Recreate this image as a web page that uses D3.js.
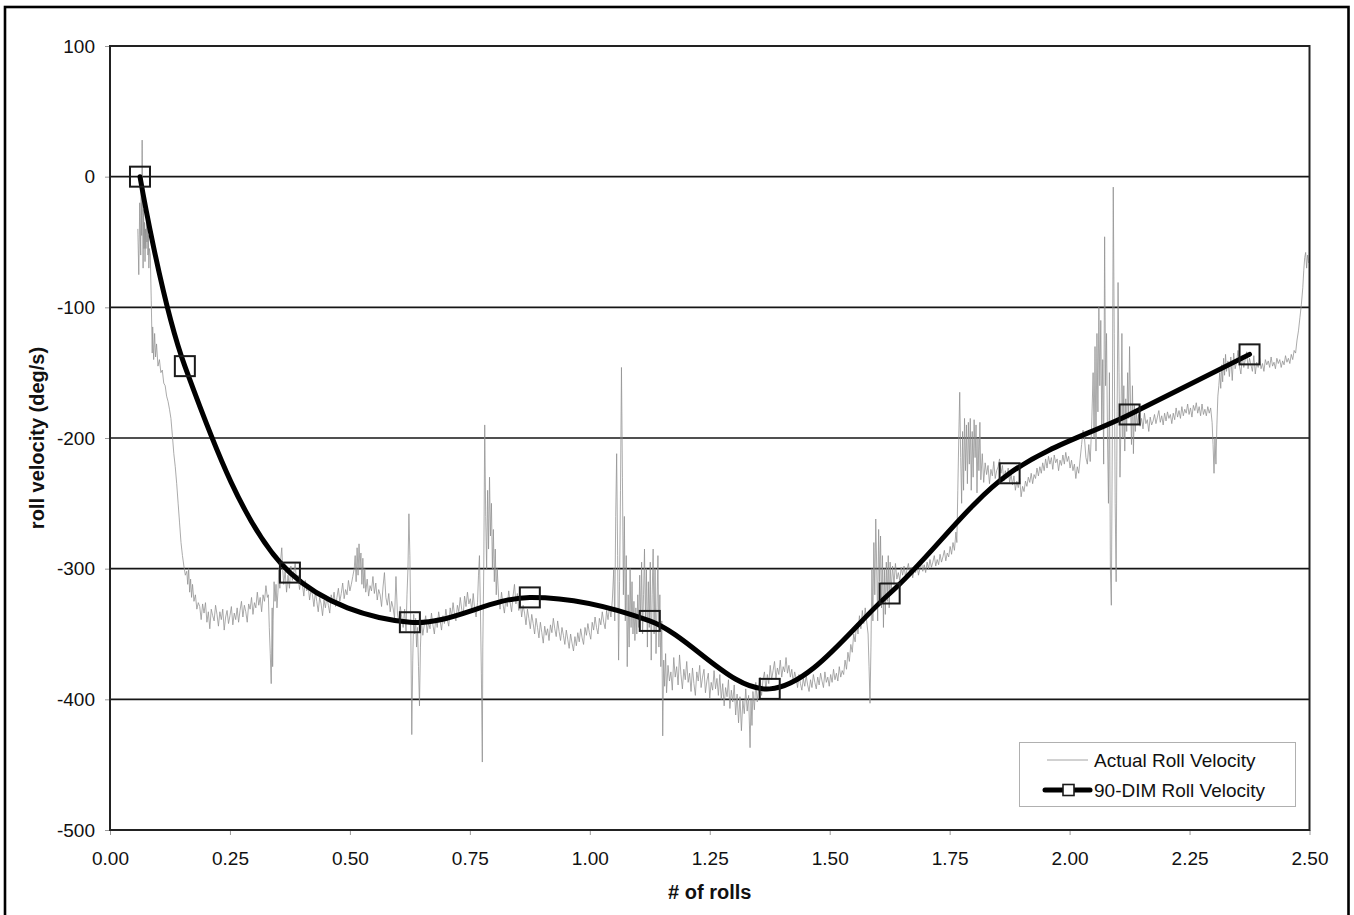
<!DOCTYPE html>
<html>
<head>
<meta charset="utf-8">
<script src="https://cdn.jsdelivr.net/npm/d3@7"></script>
<style>
  body { margin: 0; background: #fff; }
  svg { display: block; }
  text { font-family: "Liberation Sans", Arial, sans-serif; fill: #111; }
</style>
</head>
<body>
<svg id="chart" width="1354" height="915"></svg>
<script>
// Measured roll velocity: [rolls, deg/s]
const actualTrace = [
  [0.058,-40],[0.060,-75],[0.062,-20],[0.064,-60],[0.065,-5],[0.066,-45],[0.067,28],[0.068,-30],[0.069,-70],[0.070,-25],
  [0.071,-55],[0.072,-35],[0.073,-65],[0.074,-40],[0.075,-55],[0.076,-30],[0.077,-50],[0.078,-35],[0.079,-60],[0.080,-45],
  [0.081,-70],[0.082,-55],[0.084,-60],[0.086,-95],[0.088,-135],[0.089,-115],[0.091,-140],[0.093,-120],[0.095,-138],[0.097,-128],
  [0.100,-145],[0.103,-140],[0.106,-150],[0.109,-148],[0.112,-158],[0.115,-160],[0.118,-168],[0.121,-172],[0.124,-178],[0.127,-185],
  [0.130,-198],[0.133,-212],[0.136,-222],[0.139,-235],[0.142,-250],[0.145,-265],[0.148,-280],[0.151,-290],[0.154,-298],[0.157,-305],
  [0.160,-302],[0.162,-312],[0.164,-300],[0.166,-318],[0.168,-308],[0.170,-322],[0.172,-312],[0.175,-325],
  [0.178,-320],[0.181,-331],[0.184,-326],[0.187,-329],[0.190,-339],[0.193,-327],[0.196,-334],[0.199,-326],[0.202,-341],[0.205,-333],
  [0.208,-346],[0.211,-331],[0.214,-336],[0.217,-340],[0.220,-328],[0.223,-335],[0.226,-344],[0.229,-333],[0.232,-339],[0.235,-331],
  [0.238,-347],[0.241,-337],[0.244,-332],[0.247,-342],[0.250,-336],[0.253,-329],[0.256,-343],[0.259,-334],[0.262,-339],[0.265,-330],
  [0.268,-341],[0.271,-332],[0.274,-325],[0.277,-337],[0.280,-328],[0.283,-333],[0.286,-341],[0.289,-327],[0.292,-331],[0.295,-322],
  [0.298,-335],[0.301,-326],[0.304,-330],[0.307,-318],[0.310,-328],[0.313,-322],[0.316,-333],[0.319,-320],[0.322,-325],[0.325,-313],
  [0.328,-322],[0.330,-320],[0.332,-345],[0.334,-365],[0.336,-388],[0.337,-360],[0.338,-330],[0.339,-375],[0.340,-340],[0.342,-310],
  [0.344,-325],[0.346,-312],[0.348,-330],[0.350,-318],[0.352,-300],[0.354,-315],[0.356,-292],[0.358,-284],[0.360,-300],[0.362,-312],
  [0.365,-302],[0.368,-318],[0.371,-305],[0.374,-315],
  [0.377,-298],[0.380,-309],[0.383,-303],[0.386,-296],[0.389,-311],[0.392,-305],[0.395,-316],[0.398,-308],[0.401,-312],[0.404,-321],
  [0.407,-309],[0.410,-317],[0.413,-313],[0.416,-324],[0.419,-316],[0.422,-320],[0.425,-329],[0.428,-318],[0.431,-325],[0.434,-333],
  [0.437,-322],[0.440,-327],[0.443,-336],[0.446,-324],[0.449,-330],[0.452,-321],[0.455,-328],[0.458,-334],[0.461,-320],[0.464,-326],
  [0.467,-318],[0.470,-329],[0.473,-322],[0.476,-315],[0.479,-325],[0.482,-319],[0.485,-311],[0.488,-323],[0.491,-316],[0.494,-320],
  [0.497,-309],[0.500,-317],[0.503,-312],[0.506,-306],
  [0.509,-300],[0.511,-290],[0.513,-310],[0.515,-284],[0.517,-305],[0.519,-281],[0.521,-300],[0.523,-288],[0.525,-312],[0.527,-292],
  [0.529,-315],[0.531,-300],[0.533,-318],
  [0.536,-308],[0.539,-321],[0.542,-313],[0.545,-317],[0.548,-306],[0.551,-319],[0.554,-311],[0.557,-324],[0.560,-316],[0.563,-320],
  [0.566,-329],[0.569,-314],[0.572,-303],[0.575,-322],[0.578,-328],[0.581,-319],[0.584,-333],[0.587,-325],[0.590,-330],[0.593,-338],
  [0.596,-306],[0.599,-334],[0.602,-341],[0.605,-329],[0.608,-337],[0.611,-345],[0.614,-331],[0.617,-348],
  [0.619,-320],[0.621,-300],[0.623,-258],[0.625,-290],[0.627,-350],[0.629,-427],[0.631,-370],[0.633,-335],[0.635,-350],[0.637,-338],
  [0.639,-360],[0.641,-345],[0.643,-375],[0.645,-405],[0.647,-360],
  [0.649,-340],[0.652,-351],[0.655,-343],[0.658,-336],[0.661,-349],[0.664,-341],[0.667,-346],[0.670,-334],[0.673,-343],[0.676,-350],
  [0.679,-338],[0.682,-345],[0.685,-333],[0.688,-340],[0.691,-347],[0.694,-336],[0.697,-342],[0.700,-331],[0.703,-339],[0.706,-344],
  [0.709,-330],[0.712,-337],[0.715,-326],[0.718,-335],[0.721,-340],[0.724,-328],[0.727,-333],[0.730,-322],[0.733,-331],[0.736,-336],
  [0.739,-321],[0.742,-329],[0.745,-318],[0.748,-327],[0.751,-323],[0.754,-332],[0.757,-319],[0.760,-331],[0.763,-337],[0.766,-326],
  [0.768,-305],[0.770,-290],[0.772,-330],[0.774,-380],[0.776,-448],[0.777,-360],[0.779,-300],[0.781,-190],[0.783,-260],[0.785,-300],
  [0.787,-240],[0.789,-285],[0.791,-230],[0.793,-275],[0.795,-250],[0.797,-300],[0.799,-270],[0.801,-310],[0.803,-285],[0.805,-320],
  [0.807,-300],
  [0.810,-322],[0.813,-331],[0.816,-318],[0.819,-327],[0.822,-334],[0.825,-323],[0.828,-329],[0.831,-317],[0.834,-326],[0.837,-333],
  [0.840,-321],[0.843,-312],[0.846,-327],[0.849,-319],[0.852,-332],[0.855,-325],[0.858,-337],[0.861,-328],[0.864,-334],[0.867,-343],
  [0.870,-331],[0.873,-338],[0.876,-346],[0.879,-335],[0.882,-342],[0.885,-350],[0.888,-338],[0.891,-345],[0.894,-353],[0.897,-341],
  [0.900,-349],[0.903,-357],[0.906,-344],[0.909,-351],[0.912,-346],[0.915,-355],[0.918,-343],[0.921,-349],[0.924,-338],[0.927,-346],
  [0.930,-352],[0.933,-340],[0.936,-348],[0.939,-355],[0.942,-345],[0.945,-351],[0.948,-358],[0.951,-347],[0.954,-354],[0.957,-361],
  [0.960,-350],[0.963,-357],[0.966,-363],[0.969,-352],[0.972,-359],[0.975,-349],[0.978,-356],[0.981,-346],[0.984,-353],[0.987,-358],
  [0.990,-345],[0.993,-351],[0.996,-342],[0.999,-349],[1.002,-354],[1.005,-341],[1.008,-347],[1.011,-337],[1.014,-345],[1.017,-350],
  [1.020,-338],[1.023,-343],[1.026,-333],[1.029,-341],[1.032,-346],[1.035,-332],[1.038,-339],[1.041,-329],[1.044,-337],[1.047,-324],
  [1.050,-300],[1.052,-340],[1.054,-260],[1.056,-212],[1.058,-290],[1.060,-370],[1.062,-310],[1.064,-240],[1.066,-146],[1.068,-230],
  [1.070,-320],[1.072,-260],[1.074,-340],[1.076,-290],[1.078,-375],[1.080,-320],[1.082,-360],[1.084,-300],[1.086,-345],[1.088,-310],
  [1.090,-350],[1.092,-325],[1.094,-355],[1.096,-330],[1.098,-350],[1.100,-320],[1.102,-345],[1.104,-305],[1.106,-340],[1.108,-295],
  [1.110,-350],[1.112,-320],[1.114,-285],[1.116,-340],[1.118,-300],[1.120,-360],[1.122,-310],[1.124,-345],[1.126,-295],[1.128,-370],
  [1.130,-320],[1.132,-285],[1.134,-350],[1.136,-300],[1.138,-365],[1.140,-330],[1.142,-290],[1.144,-360],[1.146,-320],[1.148,-375],
  [1.150,-340],[1.152,-428],[1.154,-370],[1.156,-390],[1.158,-365],
  [1.160,-395],[1.163,-374],[1.166,-386],[1.169,-379],[1.172,-393],[1.175,-368],[1.178,-383],[1.181,-375],[1.184,-389],[1.187,-366],
  [1.190,-381],[1.193,-392],[1.196,-377],[1.199,-385],[1.202,-371],[1.205,-387],[1.208,-380],[1.211,-394],[1.214,-376],[1.217,-388],
  [1.220,-397],[1.223,-379],[1.226,-386],[1.229,-374],[1.232,-391],[1.235,-383],[1.238,-377],[1.241,-395],[1.244,-386],[1.247,-380],
  [1.250,-399],[1.253,-387],[1.256,-393],[1.259,-378],[1.262,-392],[1.265,-384],[1.268,-397],[1.271,-381],[1.274,-400],[1.277,-388],
  [1.280,-405],[1.283,-391],[1.286,-398],[1.289,-385],[1.292,-407],[1.295,-393],[1.298,-402],[1.301,-389],[1.304,-412],[1.307,-396],
  [1.310,-418],[1.313,-398],[1.316,-424],[1.319,-401],[1.322,-411],[1.325,-392],[1.328,-409],[1.331,-397],[1.334,-437],[1.336,-400],
  [1.338,-420],[1.340,-394],[1.343,-408],[1.346,-387],[1.349,-402],[1.352,-391],[1.355,-383],[1.358,-397],[1.361,-385],[1.364,-379],
  [1.367,-393],[1.370,-381],[1.373,-388],[1.376,-374],[1.379,-385],[1.382,-378],[1.385,-371],[1.388,-384],[1.391,-376],[1.394,-381],
  [1.397,-370],[1.400,-383],[1.403,-375],[1.406,-379],[1.409,-368],[1.412,-380],[1.415,-374],[1.418,-383],[1.421,-377],[1.424,-387],
  [1.427,-379],[1.430,-384],[1.433,-391],[1.436,-381],[1.439,-388],[1.442,-393],[1.445,-384],[1.448,-390],[1.451,-382],[1.454,-389],
  [1.457,-394],[1.460,-385],[1.463,-391],[1.466,-381],[1.469,-387],[1.472,-392],[1.475,-383],[1.478,-389],[1.481,-380],[1.484,-386],
  [1.487,-391],[1.490,-379],[1.493,-387],[1.496,-383],[1.499,-390],[1.502,-381],[1.505,-387],[1.508,-377],[1.511,-385],[1.514,-380],
  [1.517,-386],[1.520,-375],[1.523,-383],[1.526,-378],[1.529,-381],[1.532,-370],[1.535,-377],[1.538,-364],[1.541,-371],
  [1.544,-358],[1.547,-364],[1.550,-350],[1.553,-356],[1.556,-342],[1.559,-350],[1.562,-336],[1.565,-346],[1.568,-332],[1.571,-342],
  [1.574,-330],[1.577,-340],[1.580,-350],[1.582,-375],[1.584,-403],[1.586,-360],[1.588,-300],[1.590,-340],[1.592,-280],[1.594,-320],
  [1.596,-262],[1.598,-300],[1.600,-340],[1.602,-270],[1.604,-310],[1.606,-275],[1.608,-330],[1.610,-290],[1.612,-345],[1.614,-300],
  [1.616,-335],[1.618,-295],[1.620,-325],[1.622,-290],[1.624,-330],[1.626,-295],[1.628,-318],[1.631,-298],[1.634,-312],[1.637,-296],
  [1.640,-308],
  [1.643,-303],[1.646,-309],[1.649,-299],[1.652,-305],[1.655,-298],[1.658,-306],[1.661,-301],[1.664,-296],[1.667,-304],[1.670,-299],
  [1.673,-307],[1.676,-300],[1.679,-303],[1.682,-297],[1.685,-305],[1.688,-300],[1.691,-294],[1.694,-302],[1.697,-297],[1.700,-303],
  [1.703,-295],[1.706,-300],[1.709,-293],[1.712,-299],[1.715,-295],[1.718,-290],[1.721,-298],[1.724,-293],[1.727,-297],[1.730,-289],
  [1.733,-295],[1.736,-291],[1.739,-286],[1.742,-294],[1.745,-288],[1.748,-291],[1.751,-283],[1.754,-289],[1.757,-280],[1.760,-286],
  [1.763,-272],[1.765,-280],[1.767,-240],[1.769,-200],[1.771,-165],[1.773,-215],[1.775,-250],[1.777,-195],[1.779,-240],[1.781,-185],
  [1.783,-225],[1.785,-190],[1.787,-235],[1.789,-188],[1.791,-220],[1.793,-185],[1.795,-240],[1.797,-195],[1.799,-230],[1.801,-186],
  [1.803,-215],[1.805,-190],[1.807,-242],[1.809,-200],[1.811,-225],[1.813,-188],[1.815,-232],
  [1.818,-212],[1.821,-234],[1.824,-219],[1.827,-228],[1.830,-221],[1.833,-235],[1.836,-224],[1.839,-229],[1.842,-218],[1.845,-231],
  [1.848,-225],[1.851,-222],[1.854,-216],[1.857,-227],[1.860,-221],[1.863,-233],[1.866,-225],[1.869,-230],[1.872,-223],[1.875,-234],
  [1.878,-228],[1.881,-236],[1.884,-229],[1.887,-240],[1.890,-233],[1.893,-238],[1.896,-231],[1.899,-245],[1.902,-237],[1.905,-241],
  [1.908,-233],[1.911,-237],[1.914,-230],[1.917,-234],[1.920,-227],[1.923,-235],[1.926,-228],[1.929,-231],[1.932,-223],[1.935,-229],
  [1.938,-222],[1.941,-227],[1.944,-219],[1.947,-225],[1.950,-216],[1.953,-223],[1.956,-214],[1.959,-220],[1.962,-215],[1.965,-224],
  [1.968,-213],[1.971,-219],[1.974,-216],[1.977,-225],[1.980,-217],[1.983,-221],[1.986,-213],[1.989,-220],[1.992,-211],[1.995,-218],
  [1.998,-214],[2.001,-223],[2.004,-217],[2.007,-225],[2.010,-220],[2.013,-231],[2.016,-222],[2.019,-227],[2.022,-216],
  [2.025,-205],[2.028,-194],[2.031,-200],[2.034,-215],[2.037,-220],[2.040,-205],[2.043,-218],[2.046,-190],[2.049,-150],[2.051,-200],
  [2.053,-130],[2.055,-210],[2.057,-120],[2.059,-180],[2.061,-100],[2.063,-160],[2.065,-110],[2.067,-190],[2.069,-140],[2.071,-220],
  [2.073,-46],[2.075,-160],[2.077,-120],[2.079,-200],[2.081,-250],[2.083,-150],[2.085,-300],[2.087,-328],[2.089,-200],[2.091,-8],
  [2.093,-120],[2.095,-250],[2.097,-310],[2.099,-180],[2.101,-81],[2.103,-150],[2.105,-230],[2.107,-190],[2.109,-120],[2.111,-200],
  [2.113,-160],[2.115,-210],[2.117,-170],[2.119,-195],[2.121,-150],[2.123,-185],[2.125,-130],[2.127,-175],[2.129,-205],[2.131,-160],
  [2.133,-212],[2.135,-175],[2.137,-195],[2.139,-178],
  [2.141,-190],[2.144,-182],[2.147,-191],[2.150,-185],[2.153,-193],[2.156,-181],[2.159,-189],[2.162,-186],[2.165,-195],[2.168,-184],
  [2.171,-190],[2.174,-187],[2.177,-182],[2.180,-189],[2.183,-184],[2.186,-179],[2.189,-188],[2.192,-183],[2.195,-190],[2.198,-181],
  [2.201,-187],[2.204,-180],[2.207,-185],[2.210,-182],[2.213,-189],[2.216,-181],[2.219,-186],[2.222,-177],[2.225,-184],[2.228,-179],
  [2.231,-185],[2.234,-176],[2.237,-183],[2.240,-178],[2.243,-181],[2.246,-174],[2.249,-182],[2.252,-177],[2.255,-184],[2.258,-175],
  [2.261,-179],[2.264,-173],[2.267,-181],[2.270,-176],[2.273,-183],[2.276,-174],[2.279,-182],[2.282,-178],[2.285,-183],[2.288,-176],
  [2.291,-181],[2.294,-177],[2.297,-188],
  [2.299,-205],[2.301,-227],[2.303,-200],[2.305,-220],[2.307,-190],[2.309,-168],[2.311,-160],[2.313,-150],[2.315,-162],
  [2.317,-144],[2.319,-157],[2.321,-139],[2.323,-152],[2.325,-136],[2.327,-149],[2.330,-141],[2.333,-153],[2.336,-138],[2.339,-156],
  [2.342,-135],[2.345,-147],[2.348,-142],[2.351,-133],[2.354,-145],[2.357,-151],[2.360,-137],[2.363,-146],[2.366,-140],[2.369,-134],
  [2.372,-147],[2.375,-139],[2.378,-144],[2.381,-149],[2.384,-137],[2.387,-151],[2.390,-142],[2.393,-146],[2.396,-139],[2.399,-147],
  [2.402,-143],[2.405,-149],[2.408,-140],[2.411,-144],[2.414,-141],[2.417,-146],[2.420,-138],[2.423,-145],[2.426,-142],[2.429,-147],
  [2.432,-139],[2.435,-143],[2.438,-140],[2.441,-146],[2.444,-141],[2.447,-144],[2.450,-137],[2.453,-142],[2.456,-139],[2.459,-143],
  [2.462,-136],[2.465,-140],[2.468,-133],[2.471,-135],
  [2.474,-125],[2.477,-118],[2.480,-108],[2.483,-98],[2.486,-85],[2.488,-72],[2.490,-62],[2.492,-58],[2.494,-70],[2.496,-60],
  [2.498,-66]
];

// 90-DIM roll velocity model points
const dimRolls    = [0.0625, 0.156, 0.375, 0.625, 0.875, 1.125, 1.375, 1.625, 1.875, 2.125, 2.375];
const dimVelocity = [0, -145, -303, -341, -322, -340, -392, -319, -227, -182, -136];

const xTickValues = [0, 0.25, 0.5, 0.75, 1.0, 1.25, 1.5, 1.75, 2.0, 2.25, 2.5];
const yTickValues = [-500, -400, -300, -200, -100, 0, 100];
const gridValues  = [-400, -300, -200, -100, 0];
const seriesNames = ["Actual Roll Velocity", "90-DIM Roll Velocity"];
const xTitle = "# of rolls";
const yTitle = "roll velocity (deg/s)";

const plot = { left: 110, top: 46, right: 1309.5, bottom: 830 };
const svg = d3.select("#chart");

const x = d3.scaleLinear().domain([0, 2.5]).range([plot.left, plot.right]);
const y = d3.scaleLinear().domain([-500, 100]).range([plot.bottom, plot.top]);

// page frame
svg.append("rect")
  .attr("x", 5).attr("y", 7)
  .attr("width", 1343.5).attr("height", 930)
  .attr("fill", "none").attr("stroke", "#000").attr("stroke-width", 2.6);

// clip for plot contents
svg.append("defs").append("clipPath").attr("id", "plotClip")
  .append("rect")
  .attr("x", plot.left).attr("y", plot.top)
  .attr("width", plot.right - plot.left).attr("height", plot.bottom - plot.top);

// horizontal gridlines
svg.append("g").selectAll("line").data(gridValues).join("line")
  .attr("x1", plot.left).attr("x2", plot.right)
  .attr("y1", d => y(d)).attr("y2", d => y(d))
  .attr("stroke", "#161616").attr("stroke-width", 1.6);

// axes
const yAxis = d3.axisLeft(y).tickValues(yTickValues).tickSize(5).tickPadding(10)
  .tickFormat(d => String(d));
const gy = svg.append("g").attr("transform", `translate(${plot.left},0)`).call(yAxis);
const xAxis = d3.axisBottom(x).tickValues(xTickValues).tickSize(5).tickPadding(17)
  .tickFormat(d => d.toFixed(2));
const gx = svg.append("g").attr("transform", `translate(0,${plot.bottom})`).call(xAxis);
[gx, gy].forEach(g => {
  g.select(".domain").remove();
  g.selectAll(".tick line").attr("stroke", "#9a9a9a").attr("stroke-width", 1);
  g.selectAll(".tick text")
    .attr("fill", "#111")
    .style("font-family", '"Liberation Sans", Arial, sans-serif')
    .style("font-size", "19px");
});

// measured trace
const traceLine = d3.line().x(d => x(d[0])).y(d => y(d[1]));
svg.append("path")
  .datum(actualTrace)
  .attr("clip-path", "url(#plotClip)")
  .attr("d", traceLine)
  .attr("fill", "none")
  .attr("stroke", "#8f8f8f")
  .attr("stroke-width", 0.75)
  .attr("stroke-linejoin", "round");

// model curve
const dimPoints = dimRolls.map((r, i) => [r, dimVelocity[i]]);
const dimLine = d3.line().x(d => x(d[0])).y(d => y(d[1])).curve(d3.curveCatmullRom.alpha(0.5));
svg.append("path")
  .datum(dimPoints)
  .attr("d", dimLine)
  .attr("fill", "none")
  .attr("stroke", "#000")
  .attr("stroke-width", 5)
  .attr("stroke-linecap", "round")
  .attr("stroke-linejoin", "round");

svg.append("g").selectAll("rect").data(dimPoints).join("rect")
  .attr("x", d => x(d[0]) - 10).attr("y", d => y(d[1]) - 10)
  .attr("width", 20).attr("height", 20)
  .attr("fill", "none").attr("stroke", "#1a1a1a").attr("stroke-width", 2);

// plot frame
svg.append("rect")
  .attr("x", plot.left).attr("y", plot.top)
  .attr("width", plot.right - plot.left).attr("height", plot.bottom - plot.top)
  .attr("fill", "none").attr("stroke", "#222").attr("stroke-width", 2);

// axis titles
svg.append("text")
  .attr("x", (plot.left + plot.right) / 2).attr("y", 899)
  .attr("text-anchor", "middle")
  .style("font-size", "20px").style("font-weight", "bold")
  .text(xTitle);
svg.append("text")
  .attr("transform", `translate(44,${(plot.top + plot.bottom) / 2}) rotate(-90)`)
  .attr("text-anchor", "middle")
  .style("font-size", "20px").style("font-weight", "bold")
  .text(yTitle);

// legend
const lg = svg.append("g");
lg.append("rect")
  .attr("x", 1019.5).attr("y", 742.5).attr("width", 276).attr("height", 64)
  .attr("fill", "#fff").attr("stroke", "#b0b0b0").attr("stroke-width", 1);
lg.append("line")
  .attr("x1", 1047).attr("x2", 1088).attr("y1", 760).attr("y2", 760)
  .attr("stroke", "#9a9a9a").attr("stroke-width", 0.9);
lg.append("line")
  .attr("x1", 1045).attr("x2", 1090).attr("y1", 790).attr("y2", 790)
  .attr("stroke", "#000").attr("stroke-width", 5).attr("stroke-linecap", "round");
lg.append("rect")
  .attr("x", 1063).attr("y", 784.5).attr("width", 11).attr("height", 11)
  .attr("fill", "#fff").attr("stroke", "#1a1a1a").attr("stroke-width", 1.6);
lg.selectAll("text.lbl").data(seriesNames).join("text")
  .attr("class", "lbl")
  .attr("x", 1094).attr("y", (d, i) => 760 + i * 30)
  .attr("dy", "0.35em")
  .style("font-size", "19px")
  .text(d => d);
</script>
</body>
</html>
